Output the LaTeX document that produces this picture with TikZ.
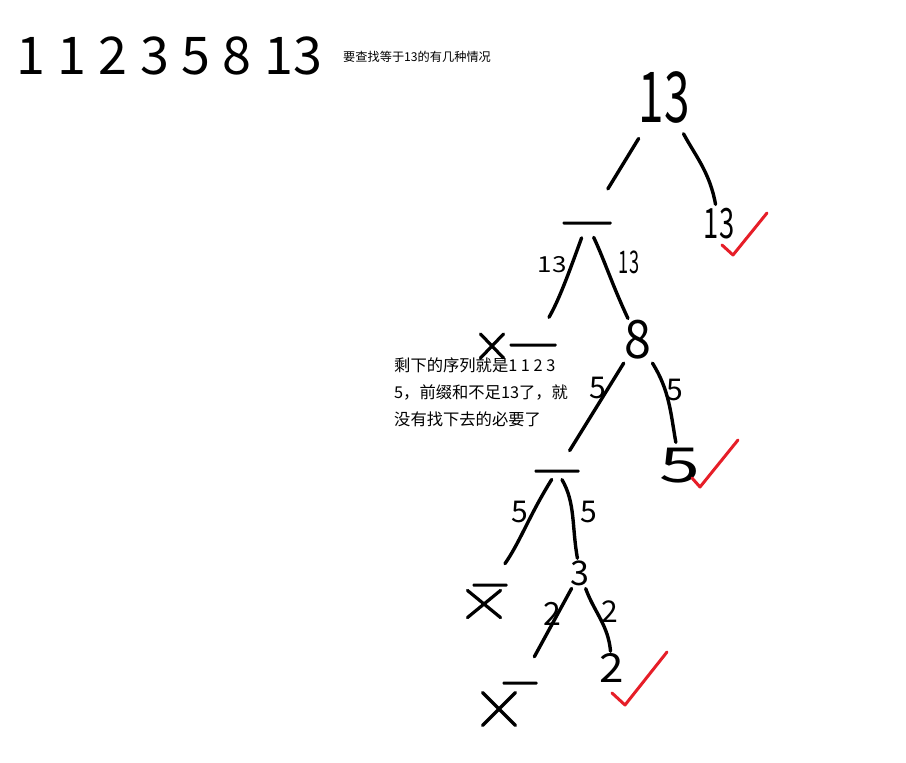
\documentclass[tikz,border=0pt]{standalone}
\usepackage{fontspec}
\setmainfont{Noto Sans CJK SC}
\usetikzlibrary{calc,shapes.misc}
\tikzset{
  num/.style={inner sep=0pt, font=\fontsize{#1}{#1}\selectfont},
  bar/.style={fill=black, inner sep=0pt, minimum height=3pt, minimum width=#1, rounded corners=1pt},
  cross/.style 2 args={cross out, draw=black, line width=3.2pt, line cap=round, inner sep=0pt, minimum width=#1, minimum height=#2},
  edge/.style={line width=3.4pt, line cap=round, black},
  lab/.style={inner sep=0pt, font=\fontsize{#1}{#1}\selectfont},
  tick/.style={line width=3pt, line cap=round, line join=round, draw={rgb,255:red,230;green,30;blue,40}}
}
\begin{document}
\begin{tikzpicture}[x=1pt,y=-1pt]
\useasboundingbox (0,0) rectangle (906,763);
% headings
\node[anchor=west, inner sep=0pt, font=\fontsize{52}{52}\selectfont] (seq) at (16,56)
  {1\hspace{12.5pt}1\hspace{12.5pt}2\hspace{12.5pt}3\hspace{12.5pt}5\hspace{12.5pt}8\hspace{12.5pt}13};
\node[anchor=west, inner sep=0pt, font=\fontsize{12.2}{13}\selectfont] (title) at (343,57) {要查找等于13的有几种情况};
\node[anchor=north west, inner sep=0pt, align=left, font=\fontsize{16.3}{27}\selectfont] (note) at (394,358)
  {剩下的序列就是1 1 2 3\\5，前缀和不足13了，就\\没有找下去的必要了};
% tree nodes
\node[num=54] (r13) at (664,97) {\scalebox{0.85}[1.3]{13}};
\node[num=38] (c13) at (719,224) {\scalebox{0.72}[1.1]{13}};
\node[bar=49pt] (d1) at (587,223) {};
\node[bar=47pt] (d2) at (533,345) {};
\node[cross={20pt}{21pt}] (x0) at (492,346) {};
\node[num=46] (n8) at (638,340) {\scalebox{1.05}[1.15]{8}};
\node[num=46] (c5) at (680,466) {\scalebox{1.6}[1.05]{5}};
\node[bar=45pt] (d3) at (557,471) {};
\node[bar=35pt] (d4) at (490,585) {};
\node[cross={30pt}{24pt}] (x1) at (484,604) {};
\node[num=34] (n3) at (580,573) {3};
\node[bar=35pt] (d5) at (520,683) {};
\node[cross={30pt}{30pt}] (x2) at (499,709) {};
\node[num=40] (c2) at (612,668) {\scalebox{1.1}[1]{2}};
% connectors
\draw[edge, shorten <=18pt, shorten >=38pt] (r13) -- (d1);
\draw[edge, shorten <=12pt, shorten >=4pt] (r13) to[out=-62,in=100] (c13);
\draw[edge, shorten <=14pt, shorten >=30pt] (d1) to[out=-110,in=60] (d2);
\draw[edge, shorten <=14pt, shorten >=2pt] (d1) to[out=-65,in=115] (n8);
\draw[edge, shorten <=4pt, shorten >=22pt] (n8) -- (d3);
\draw[edge, shorten <=4pt, shorten >=6pt] (n8) to[out=-58,in=100] (c5);
\draw[edge, shorten <=8pt, shorten >=24pt] (d3) to[out=-122,in=55] (d4);
\draw[edge, shorten <=8pt, shorten >=2pt] (d3) to[out=-60,in=100] (n3);
\draw[edge, shorten <=3pt, shorten >=28pt] (n3) -- (d5);
\draw[edge, shorten <=3pt, shorten >=2pt] (n3) to[out=-70,in=95] (c2);
% edge labels
\node[lab=26] (l1) at (552,265) {\scalebox{1}[0.85]{13}};
\node[lab=26] (l2) at (629,262) {\scalebox{0.7}[1.2]{13}};
\node[lab=30] (l3) at (598,388) {5};
\node[lab=30] (l4) at (675,390) {5};
\node[lab=30] (l5) at (520,512) {5};
\node[lab=30] (l6) at (589,512) {5};
\node[lab=32] (l7) at (552,614) {2};
\node[lab=30] (l8) at (610,612) {2};
% check marks
\draw[tick] ($(c13)+(3,21)$) -- ($(c13)+(14,31)$) -- ($(c13)+(48,-11)$);
\draw[tick] ($(c5)+(12,12)$) -- ($(c5)+(20,21)$) -- ($(c5)+(58,-26)$);
\draw[tick] ($(c2)+(0,25)$) -- ($(c2)+(13,37)$) -- ($(c2)+(55,-16)$);
\end{tikzpicture}
\end{document}
